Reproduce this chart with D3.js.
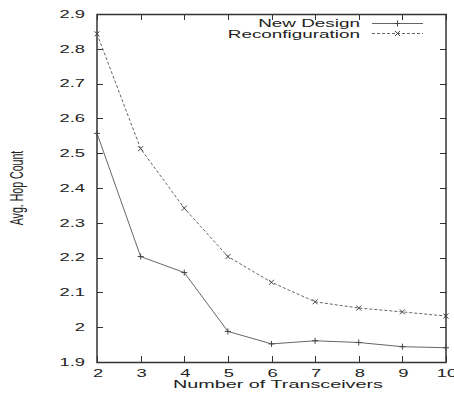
<!DOCTYPE html>
<html><head><meta charset="utf-8">
<script src="https://cdn.jsdelivr.net/npm/d3@7"></script>
<style>body{margin:0;background:#fff}svg{display:block}text{font-family:"Liberation Sans",Arial,sans-serif;fill:#222}</style>
</head><body>
<script>
const transceivers = [2, 3, 4, 5, 6, 7, 8, 9, 10];
const newDesign = [2.557, 2.203, 2.157, 1.988, 1.952, 1.961, 1.956, 1.944, 1.941];
const reconfiguration = [2.843, 2.513, 2.342, 2.203, 2.129, 2.073, 2.055, 2.044, 2.032];
const yTickValues = [1.9, 2.0, 2.1, 2.2, 2.3, 2.4, 2.5, 2.6, 2.7, 2.8, 2.9];
const yTickLabels = ["1.9", "2", "2.1", "2.2", "2.3", "2.4", "2.5", "2.6", "2.7", "2.8", "2.9"];
const xTickValues = [2, 3, 4, 5, 6, 7, 8, 9, 10];
const seriesNames = ["New Design", "Reconfiguration"];

const W = 454, H = 395;
const m = {left: 97, right: 446, top: 14, bottom: 362};
const SX = 1.8, FS = 10.5;
const svg = d3.select("body").append("svg").attr("width", W).attr("height", H);
const x = d3.scaleLinear().domain([2, 10]).range([m.left, m.right]);
const y = d3.scaleLinear().domain([1.9, 2.9]).range([m.bottom, m.top]);

function stext(px, py, str, anchor, size) {
  return svg.append("text")
    .attr("transform", `translate(${px},${py}) scale(${SX},1)`)
    .attr("text-anchor", anchor || "start")
    .style("font-size", (size || FS) + "px")
    .text(str);
}

// ticks (inward, mirrored)
const tk = 6, axisColor = "#333";
const g = svg.append("g").attr("stroke", axisColor).attr("stroke-width", 1);
yTickValues.forEach(v => {
  const yy = Math.round(y(v)) + 0.5;
  g.append("line").attr("x1", m.left).attr("x2", m.left + tk).attr("y1", yy).attr("y2", yy);
  g.append("line").attr("x1", m.right - tk).attr("x2", m.right).attr("y1", yy).attr("y2", yy);
});
xTickValues.forEach(v => {
  const xx = Math.round(x(v)) + 0.5;
  g.append("line").attr("x1", xx).attr("x2", xx).attr("y1", m.bottom).attr("y2", m.bottom - tk);
  g.append("line").attr("x1", xx).attr("x2", xx).attr("y1", m.top).attr("y2", m.top + tk);
});
// frame
svg.append("rect").attr("x", m.left).attr("y", m.top + 0.5)
  .attr("width", m.right - m.left).attr("height", m.bottom - m.top)
  .attr("fill", "none").attr("stroke", axisColor).attr("stroke-width", 1.5);

// tick labels
yTickValues.forEach((v, i) => stext(85, y(v) + 3.8, yTickLabels[i], "end", 10.2));
xTickValues.forEach(v => stext(x(v) + 1, 377, String(v), "middle", 10.2));

// axis titles
stext(278, 388, "Number of Transceivers", "middle", 11);
svg.append("text")
  .attr("transform", `translate(23,188) scale(${SX},1) rotate(-90)`)
  .attr("text-anchor", "middle").style("font-size", "10.6px")
  .text("Avg. Hop Count");

// series
const lineGen = d3.line().x((d, i) => x(transceivers[i])).y(d => y(d));
const lineColor = "#666";
svg.append("path").datum(newDesign).attr("d", lineGen)
  .attr("fill", "none").attr("stroke", lineColor).attr("stroke-width", 1);
svg.append("path").datum(reconfiguration).attr("d", lineGen)
  .attr("fill", "none").attr("stroke", lineColor).attr("stroke-width", 1)
  .attr("stroke-dasharray", "3,2");

function plus(cx, cy, s) {
  svg.append("path").attr("d", `M${cx - s},${cy}H${cx + s}M${cx},${cy - s}V${cy + s}`)
    .attr("stroke", "#444").attr("stroke-width", 1);
}
function cross(cx, cy, s) {
  svg.append("path").attr("d", `M${cx - s},${cy - s}L${cx + s},${cy + s}M${cx - s},${cy + s}L${cx + s},${cy - s}`)
    .attr("stroke", "#444").attr("stroke-width", 1);
}
newDesign.forEach((v, i) => plus(x(transceivers[i]), y(v), 3));
reconfiguration.forEach((v, i) => cross(x(transceivers[i]), y(v), 2.5));

// legend
stext(360, 27, seriesNames[0], "end");
stext(360, 37.5, seriesNames[1], "end");
svg.append("line").attr("x1", 372).attr("x2", 423).attr("y1", 23.5).attr("y2", 23.5)
  .attr("stroke", lineColor).attr("stroke-width", 1);
svg.append("line").attr("x1", 372).attr("x2", 423).attr("y1", 33.5).attr("y2", 33.5)
  .attr("stroke", lineColor).attr("stroke-width", 1).attr("stroke-dasharray", "3,2");
plus(397.5, 23.5, 3);
cross(397.5, 33.5, 2.5);
</script>
</body></html>
